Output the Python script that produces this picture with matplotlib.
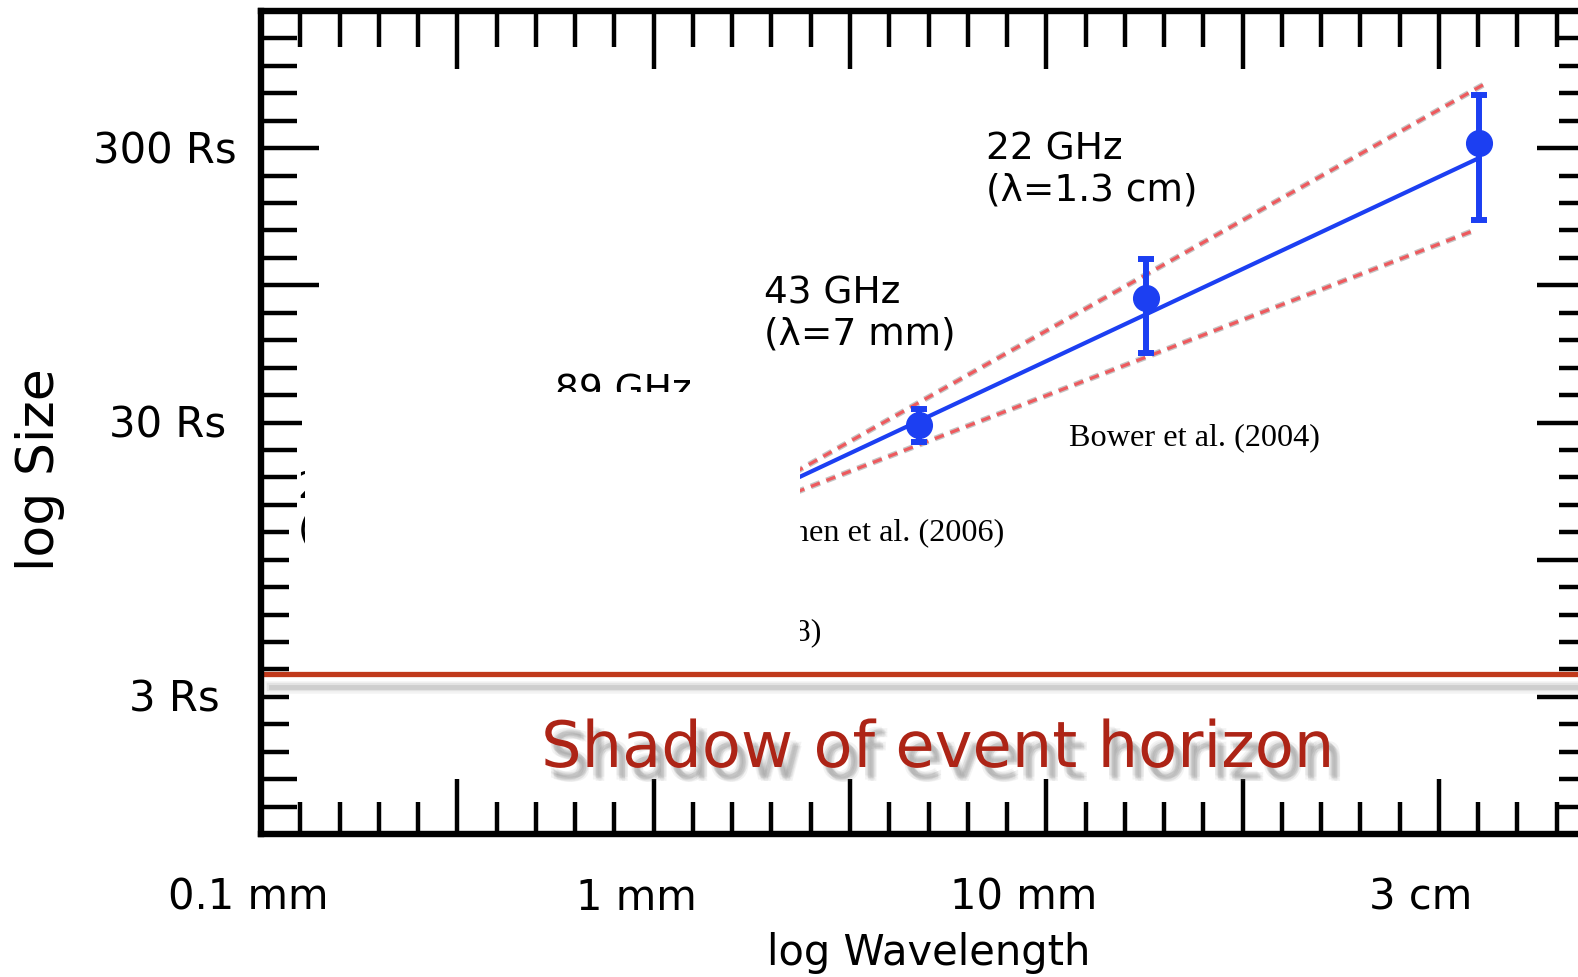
import matplotlib
matplotlib.use("Agg")
import matplotlib.pyplot as plt
import matplotlib.patheffects as pe
from matplotlib.patches import Rectangle
import numpy as np

# VLBI source sizes vs observing wavelength (schematic)
wavelength_mm = [5.36, 20.6, 149.0]
size_rs = [29.1, 84.9, 313.0]
size_lo = [25.3, 53.4, 163.0]
size_hi = [33.2, 118.0, 470.0]

fit_wl = [2.35, 149.0]
fit_size = [17.4, 276.0]
upper_wl = [2.35, 153.0]
upper_size = [18.2, 512.0]
lower_wl = [2.35, 144.5]
lower_size = [15.7, 149.8]

horizon_rs = 3.57

x_tick_vals = [0.1, 1, 10, 105]
x_tick_labels = ["0.1 mm", "1 mm", "10 mm", "3 cm"]
y_tick_vals = [300, 30, 3]
y_tick_labels = ["300 Rs", "30 Rs", "3 Rs"]
y_label_gap = [24, 35, 41]

W, H = 1578, 978
L, R, T, B = 261, 1596, 12, 835
BLUE = "#1c3ff2"


def ax_xy(px, py):
    return (px - L) / (R - L), (B - py) / (B - T)


fig = plt.figure(figsize=(W / 100, H / 100), dpi=100)
ax = fig.add_axes([L / W, (H - B) / H, (R - L) / W, (B - T) / H])
ax.set_xscale("log")
ax.set_yscale("log")
ax.set_xlim(10 ** -0.966, 10 ** 2.474)
ax.set_ylim(10 ** -0.031, 10 ** 2.978)
ax.xaxis.set_major_locator(plt.NullLocator())
ax.xaxis.set_minor_locator(plt.NullLocator())
ax.yaxis.set_major_locator(plt.NullLocator())
ax.yaxis.set_minor_locator(plt.NullLocator())
for sp in ax.spines.values():
    sp.set_linewidth(4.6)
    sp.set_zorder(10)

# ruler-style ticks
nx, ny = 34, 30
for k in range(1, nx):
    major = k % 5 == 0
    xf = k / nx
    lt = (58 if major else 36) / (B - T)
    lb = (55 if major else 32) / (B - T)
    ax.plot([xf, xf], [1, 1 - lt], transform=ax.transAxes, color="k", lw=3.2,
            solid_capstyle="butt", clip_on=False, zorder=6)
    ax.plot([xf, xf], [0, lb], transform=ax.transAxes, color="k", lw=3.2,
            solid_capstyle="butt", clip_on=False, zorder=6)
for k in range(1, ny):
    yf = 1 - k / ny
    if k in (5, 10):
        ll = 58
    elif k == 15:
        ll = 41
    elif 19 <= k <= 27:
        ll = 28
    else:
        ll = 36
    lr = 59 if k % 5 == 0 else 37
    ax.plot([0, ll / (R - L)], [yf, yf], transform=ax.transAxes, color="k", lw=3.2,
            solid_capstyle="butt", clip_on=False, zorder=6)
    ax.plot([1, 1 - lr / (R - L)], [yf, yf], transform=ax.transAxes, color="k", lw=3.2,
            solid_capstyle="butt", clip_on=False, zorder=6)

# tick labels
for v, lab in zip(x_tick_vals, x_tick_labels):
    ax.annotate(lab, xy=(v, 0), xycoords=ax.get_xaxis_transform(),
                xytext=(0, -75), textcoords="offset pixels",
                ha="center", va="baseline", fontsize=30, annotation_clip=False)
for v, lab, g in zip(y_tick_vals, y_tick_labels, y_label_gap):
    ax.annotate(lab, xy=(0, v), xycoords=ax.get_yaxis_transform(),
                xytext=(-g, -15), textcoords="offset pixels",
                ha="right", va="baseline", fontsize=30, annotation_clip=False)

fig.text(40 / W, 1 - 470 / H, "log Size", rotation=90, ha="center", va="center", fontsize=37.5)
fig.text(929 / W, 1 - 965 / H, "log Wavelength", ha="center", va="baseline", fontsize=30)

# fit and envelope
dash_fx = [pe.Stroke(linewidth=4.2, foreground="#c4c4c4"), pe.Normal()]
ax.plot(upper_wl, upper_size, color="#ee5a5e", lw=2.3, ls=(0, (3, 2.2)),
        path_effects=dash_fx, zorder=3)
ax.plot(lower_wl, lower_size, color="#ee5a5e", lw=2.3, ls=(0, (3, 2.2)),
        path_effects=dash_fx, zorder=3)
ax.plot(fit_wl, fit_size, color=BLUE, lw=3, zorder=3)

yerr = [np.subtract(size_rs, size_lo), np.subtract(size_hi, size_rs)]
ax.errorbar(wavelength_mm, size_rs, yerr=yerr, fmt="o", color=BLUE, ms=18.5,
            elinewidth=4.3, capsize=6, capthick=4.3, zorder=4)

# frequency labels
freq_labels = [
    ("22 GHz", 986, 160), ("(λ=1.3 cm)", 986, 201),
    ("43 GHz", 764, 304), ("(λ=7 mm)", 764, 345),
    ("89 GHz", 555, 402), ("(λ=3.4 mm)", 555, 443),
    ("230 GHz", 298, 499), ("(λ=1.3 mm)", 298, 540),
]
for txt, px, py in freq_labels:
    ax.text(*ax_xy(px, py), txt, transform=ax.transAxes, ha="left", va="baseline",
            fontsize=27, zorder=4)

ref_labels = [
    ("Bower et al. (2004)", 1069, 445, "left"),
    ("Shen et al. (2006)", 775, 540, "left"),
    ("Doeleman et al. (2008)", 821, 640, "right"),
]
for txt, px, py, ha in ref_labels:
    ax.text(*ax_xy(px, py), txt, transform=ax.transAxes, ha=ha, va="baseline",
            fontsize=23.2, family="Liberation Serif", zorder=4)

# white panel hiding the short-wavelength part
x0, y1 = ax_xy(305, 392.5)
x1, y0 = ax_xy(800, 660)
ax.add_patch(Rectangle((x0, y0), x1 - x0, y1 - y0, transform=ax.transAxes,
                       facecolor="white", edgecolor="none", zorder=5))

# event horizon line and label
line_shadow = [pe.SimpleLineShadow(offset=(7, -9), shadow_color="#909090", alpha=0.10, linewidth=9),
               pe.SimpleLineShadow(offset=(7, -9), shadow_color="#909090", alpha=0.16, linewidth=6),
               pe.SimpleLineShadow(offset=(7, -9), shadow_color="#909090", alpha=0.25, linewidth=3.5),
               pe.Normal()]
ax.axhline(horizon_rs, color="#c0391b", lw=3.8, zorder=7, path_effects=line_shadow)

offsets = [(5, -7), (7, -9), (6, -8), (4, -9), (8, -7), (6, -10), (8, -10), (4, -6), (6, -8)]
txt_shadow = [pe.SimplePatchShadow(offset=o, shadow_rgbFace="#707070", alpha=0.08)
              for o in offsets]
ax.text(*ax_xy(937, 768), "Shadow of event horizon", transform=ax.transAxes,
        ha="center", va="baseline", fontsize=46, color="#ad2416", zorder=7,
        path_effects=txt_shadow + [pe.Normal()])

fig.savefig("out.png", dpi=100)
